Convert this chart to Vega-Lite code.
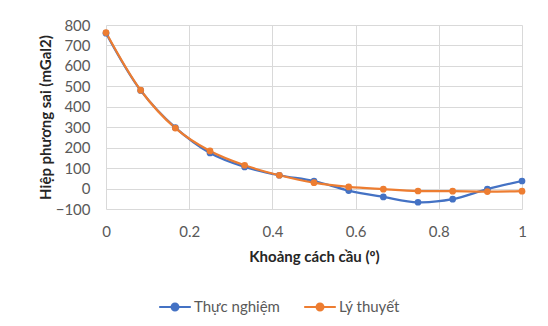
{
  "$schema": "https://vega.github.io/schema/vega-lite/v6.json",
  "autosize": {"type": "none"},
  "width": 416,
  "height": 184,
  "padding": {"left": 106, "top": 25, "right": 26, "bottom": 117},
  "background": "white",
  "data": {
    "values": [
      {"d": 0, "v": 760, "s": "Thực nghiệm"},
      {"d": 0.0833, "v": 480, "s": "Thực nghiệm"},
      {"d": 0.1667, "v": 298, "s": "Thực nghiệm"},
      {"d": 0.25, "v": 174, "s": "Thực nghiệm"},
      {"d": 0.3333, "v": 106, "s": "Thực nghiệm"},
      {"d": 0.4167, "v": 65, "s": "Thực nghiệm"},
      {"d": 0.5, "v": 37, "s": "Thực nghiệm"},
      {"d": 0.5833, "v": -10, "s": "Thực nghiệm"},
      {"d": 0.6667, "v": -41, "s": "Thực nghiệm"},
      {"d": 0.75, "v": -67, "s": "Thực nghiệm"},
      {"d": 0.8333, "v": -52, "s": "Thực nghiệm"},
      {"d": 0.9167, "v": -3, "s": "Thực nghiệm"},
      {"d": 1, "v": 37, "s": "Thực nghiệm"},
      {"d": 0, "v": 763, "s": "Lý thuyết"},
      {"d": 0.0833, "v": 481, "s": "Lý thuyết"},
      {"d": 0.1667, "v": 296, "s": "Lý thuyết"},
      {"d": 0.25, "v": 184, "s": "Lý thuyết"},
      {"d": 0.3333, "v": 114, "s": "Lý thuyết"},
      {"d": 0.4167, "v": 65, "s": "Lý thuyết"},
      {"d": 0.5, "v": 29, "s": "Lý thuyết"},
      {"d": 0.5833, "v": 8, "s": "Lý thuyết"},
      {"d": 0.6667, "v": -3, "s": "Lý thuyết"},
      {"d": 0.75, "v": -12, "s": "Lý thuyết"},
      {"d": 0.8333, "v": -13, "s": "Lý thuyết"},
      {"d": 0.9167, "v": -15, "s": "Lý thuyết"},
      {"d": 1, "v": -13, "s": "Lý thuyết"}
    ]
  },
  "encoding": {
    "x": {
      "field": "d", "type": "quantitative",
      "scale": {"domain": [0, 1], "nice": false, "zero": false},
      "axis": {"values": [0, 0.2, 0.4, 0.6, 0.8, 1], "format": "~g", "labelFlush": false, "title": "Khoảng cách cầu (º)", "titlePadding": 10, "labelPadding": 15}
    },
    "y": {
      "field": "v", "type": "quantitative",
      "scale": {"domain": [-100, 800], "nice": false},
      "axis": {"values": [-100, 0, 100, 200, 300, 400, 500, 600, 700, 800], "labelFlush": false, "title": "Hiệp phương sai (mGal2)", "labelPadding": 16, "titlePadding": 2}
    },
    "color": {
      "field": "s", "type": "nominal",
      "scale": {"domain": ["Thực nghiệm", "Lý thuyết"], "range": ["#4472C4", "#ED7D31"]},
      "legend": {"title": null, "orient": "none", "direction": "horizontal", "legendX": 52, "legendY": 265}
    }
  },
  "layer": [
    {"mark": {"type": "line", "interpolate": "catmull-rom", "strokeWidth": 2.25}},
    {"mark": {"type": "point", "filled": true, "size": 45, "opacity": 1}}
  ],
  "config": {
    "font": "Lato",
    "view": {"stroke": null},
    "axis": {
      "domain": false, "ticks": false,
      "gridColor": "#d9d9d9", "gridWidth": 1,
      "labelFont": "Lato", "labelFontSize": 15, "labelColor": "#595959",
      "titleFont": "Lato", "titleFontSize": 15, "titleFontWeight": "bold", "titleColor": "#262626"
    },
    "legend": {
      "labelFont": "Lato", "labelFontSize": 15, "labelColor": "#595959",
      "symbolType": "M-1,0L1,0M-0.22,0A0.22,0.22 0 1,1 0.22,0A0.22,0.22 0 1,1 -0.22,0",
      "symbolSize": 1000, "symbolStrokeWidth": 2, "columnPadding": 20, "labelOffset": 2
    }
  }
}
